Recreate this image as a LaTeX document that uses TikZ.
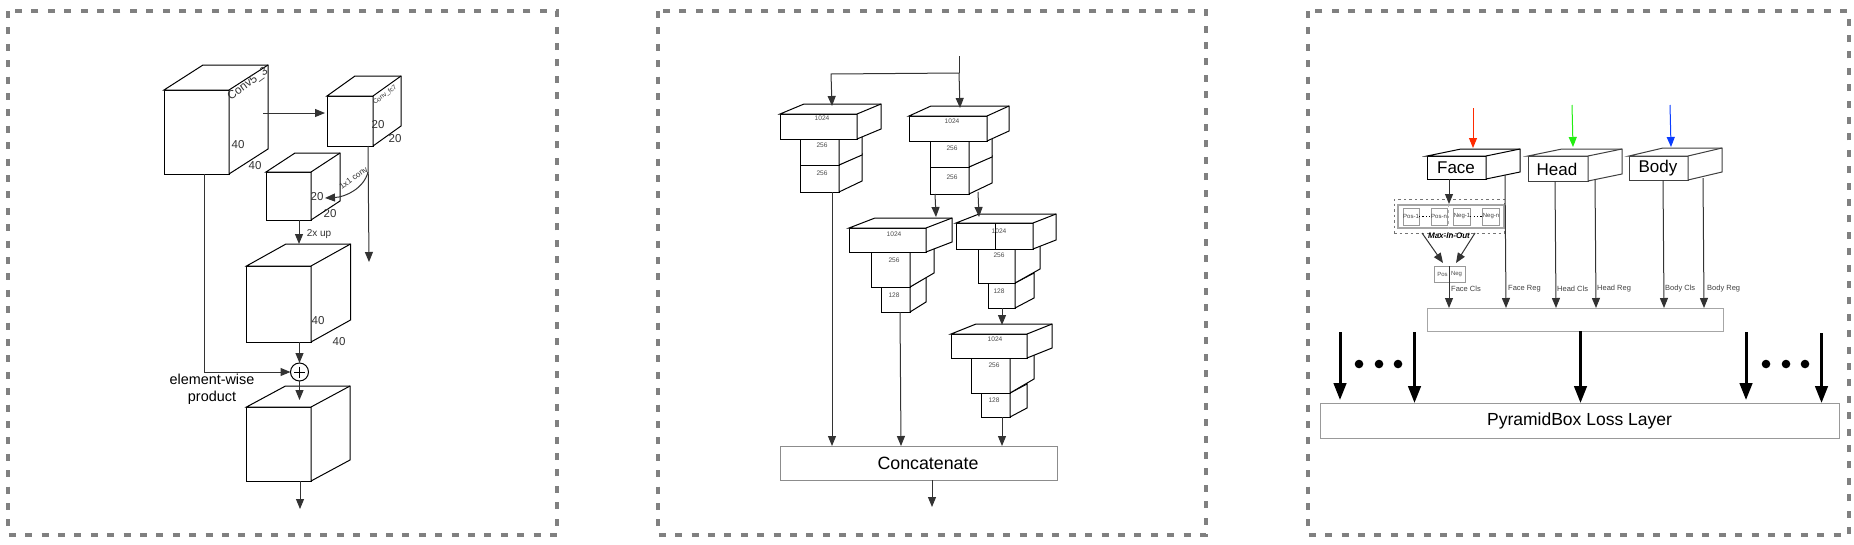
\documentclass[tikz,border=0pt]{standalone}
\usepackage{fontspec}
\setmainfont{Liberation Sans}
\usetikzlibrary{arrows.meta,calc}
\newcommand{\fpx}[1]{\fontsize{#1pt}{#1pt}\selectfont}
\tikzset{
  panel/.style={draw=black!50,line width=3.2pt,dash pattern=on 7pt off 9.4pt},
  cubeface/.style={draw=black,fill=white,line width=1pt,inner sep=0pt,outer sep=0pt},
  edgeline/.style={draw=black,fill=white,line width=1pt,line join=miter},
  arr/.style={draw=black!80,line width=1pt,-{Triangle[length=10pt,width=8pt]}},
  bigarr/.style={draw=black,line width=3pt,-{Triangle[length=17pt,width=12.5pt]}},
  greybox/.style={draw=black!45,fill=white,line width=1pt,inner sep=0pt,outer sep=0pt},
  dimlabel/.style={text=black!80,inner sep=0pt,font=\fpx{11.5}},
  tinylabel/.style={text=black!70,inner sep=0pt,font=\fpx{6.6}},
  caplabel/.style={text=black!75,inner sep=0pt,anchor=west,font=\fpx{7.5}},
  cellbox/.style={draw=black!40,fill=white,line width=.9pt,inner sep=0pt,outer sep=0pt,minimum width=16pt,minimum height=17pt,font=\fpx{6},text=black!75},
  dashbox/.style={draw=black!55,line width=.8pt,dash pattern=on 2.5pt off 3pt},
}
\newcommand{\boxthree}[8][black]{% colour; name x1 y1 x2 y2 dx dy
  \node[cubeface,draw=#1,minimum width={(#5-#3)*1pt},minimum height={(#6-#4)*1pt}] (#2) at ({(#3+#5)/2},{(#4+#6)/2}) {};
  \path[edgeline,draw=#1] (#2.north west) -- ++(#7,#8) -- ($(#2.north east)+(#7,#8)$) -- ($(#2.south east)+(#7,#8)$) -- (#2.south east) -- (#2.north east) -- cycle;
  \draw[edgeline,draw=#1,fill=none] (#2.north east) -- ++(#7,#8);
}
\newcommand{\tierbox}[7]{% name x1 y1 x2 y2 dx dy
  \node[cubeface,minimum width={(#4-#2)*1pt},minimum height={(#5-#3)*1pt}] (#1) at ({(#2+#4)/2},{(#3+#5)/2}) {};
  \path[edgeline] (#1.north east) -- ++(#6,#7) -- ($(#1.south east)+(#6,#7)$) -- (#1.south east) -- cycle;
}
\begin{document}
\begin{tikzpicture}[x=1pt,y=-1pt]
\useasboundingbox (0,0) rectangle (1854,544);
\fill[white] (0,0) rectangle (1854,544);
% panels
\draw[panel] (8,11) rectangle (557,535);
\draw[panel] (658,11) rectangle (1206,535);
\draw[panel] (1308,11) rectangle (1849,535);

% ---------- panel 1
\boxthree{cA}{164}{90}{229}{174}{39}{-25}
\boxthree{cB}{327}{96}{373}{146}{28}{-20}
\boxthree{cC}{266}{172}{311}{220}{29}{-19}
\boxthree{cD}{246.5}{266}{311}{342}{39.5}{-22}
\boxthree{cE}{246.5}{407}{311}{481}{39}{-21}
\node[dimlabel,rotate=36,font=\fpx{11.7}] (t1) at (248,84) {Conv5\_3};
\node[dimlabel] (t2) at (238,145) {40};
\node[dimlabel] (t3) at (255,166) {40};
\node[dimlabel,rotate=38,font=\fpx{6.6}] (t4) at (385,95) {Conv\_fc7};
\node[dimlabel] (t5) at (378,125) {20};
\node[dimlabel] (t6) at (395,139) {20};
\node[dimlabel] (t7) at (317,197) {20};
\node[dimlabel] (t8) at (330,214) {20};
\node[dimlabel,rotate=36,font=\fpx{8.2}] (t9) at (353.5,178) {1x1 conv};
\node[dimlabel,font=\fpx{10}] (t10) at (319,234) {2x up};
\node[dimlabel] (t11) at (318,321) {40};
\node[dimlabel] (t12) at (339,342) {40};
\node[draw=black,fill=white,circle,line width=1pt,minimum size=18pt,inner sep=0pt,outer sep=0pt] (plus) at (299.5,372) {};
\draw[line width=.8pt] (plus.center) ++(-5.5,0) -- ++(11,0) (plus.center) ++(0,-5.5) -- ++(0,11);
\node[align=center,inner sep=0pt,font=\fpx{14.4}] (ew) at (212,389.5) {element-wise\\[2.5pt]product};
\coordinate (aAin) at (325,113);
\coordinate (aAst) at (263,113);
\draw[arr] (aAst) -- (aAin);
\coordinate (bEnd) at (369,262);
\draw[arr] (cB.south -| 368,0) -- (bEnd);
\coordinate (cvS) at (368,172);
\coordinate (cvE) at (325,198);
\draw[arr] (cvS) .. controls (364,188) and (346,197) .. (cvE);
\draw[arr] (cC.south -| 299,0) -- (299,244);
\draw[arr] (cD.south -| 299.5,0) -- (299.5,363);
\draw[arr] (cA.south -| 204,0) |- (plus.west);
\draw[arr] (plus.south) -- (299.5,400);
\coordinate (eOut) at (300,509);
\draw[arr] (cE.south -| 300,0) -- (eOut);

% ---------- panel 2
\coordinate (top) at (959,56);
\coordinate (fork) at (959,73);
% stack 1
\tierbox{s1c}{800}{165}{839}{192}{23}{-11}
\tierbox{s1b}{800}{139}{839}{165}{23}{-10}
\boxthree{s1a}{780}{114}{857}{139}{24}{-10}
% stack 2
\tierbox{s2c}{930}{167}{969}{194}{23}{-11}
\tierbox{s2b}{930}{141}{969}{167}{23}{-10}
\boxthree{s2a}{909}{116}{987}{141}{22}{-10}
% stack 3
\tierbox{s3c}{881}{287}{910}{312}{16}{-10}
\tierbox{s3b}{871}{252}{910}{287}{24}{-14}
\boxthree{s3a}{849}{228}{926}{252}{26}{-10}
% stack 4
\tierbox{s4c}{988}{283}{1015}{308}{19}{-10}
\tierbox{s4b}{978}{249}{1015}{283}{25}{-14}
\boxthree{s4a}{956}{223}{1033}{249}{23}{-9}
\draw[line width=.9pt] (s4a.north -| 995,0) -- (s4a.south -| 995,0);
% stack 5
\tierbox{s5c}{981}{393}{1010}{417}{17}{-9}
\tierbox{s5b}{971}{358}{1010}{393}{24}{-14}
\boxthree{s5a}{951}{334}{1027}{358}{25}{-10}
\foreach \n/\x/\y/\t in {l1/822/118/1024,l2/822/145/256,l3/822/173/256,
  l4/952/121/1024,l5/952/148/256,l6/952/177/256,
  l7/894/234/1024,l8/894/260/256,l9/894/295/128,
  l10/999/231/1024,l11/999/255/256,l12/999/291/128,
  l13/995/339/1024,l14/994/365/256,l15/994/400/128}
  \node[tinylabel] (\n) at (\x,\y) {\t};
\node[greybox,minimum width=277pt,minimum height=34pt,font=\fpx{17.8}] (conc) at (918.5,463) {\hspace{19pt}\raisebox{-1pt}{Concatenate}};
\draw[draw=black!80,line width=1pt] (top) -- (fork);
\draw[arr] (fork) -- (831,74) -- (832,106);
\draw[arr] (fork) -- (960,108);
\draw[arr] (s1c.south -| 832,0) -- (conc.north -| 832,0) ;
\draw[arr] (s2c.south -| 935,0) -- (936,217);
\draw[arr] (978,192) -- (979,217);
\draw[arr] (s3c.south -| 900,0) -- (conc.north -| 901,0);
\draw[arr] (s4c.south -| 1002,0) -- (1002,325);
\draw[arr] (s5c.south -| 1002,0) -- (conc.north -| 1002,0);
\coordinate (cOut) at (932,507);
\draw[arr] (conc.south -| 932,0) -- (cOut);

% ---------- panel 3
\boxthree{face}{1427}{156}{1486}{179}{34}{-7}
\boxthree[black!75]{head}{1528}{156}{1588}{181}{34}{-7}
\boxthree[black!75]{body}{1629}{156}{1688}{180}{34}{-8}
\node[inner sep=0pt,font=\fpx{17}] (tf) at (1456,168) {Face};
\node[inner sep=0pt,font=\fpx{17}] (th) at (1557,169) {Head};
\node[inner sep=0pt,font=\fpx{17}] (tb) at (1658,168) {Body};
\coordinate (rS) at (1473,108); \coordinate (rE) at (1473,148);
\coordinate (gS) at (1572,105); \coordinate (gE) at (1573,147);
\coordinate (bS) at (1670,105); \coordinate (bE) at (1671,147);
\definecolor{arrred}{HTML}{FF2A00}
\definecolor{arrgreen}{HTML}{22EE11}
\definecolor{arrblue}{HTML}{0A3CFF}
\draw[arr,draw=arrred] (rS) -- (rE);
\draw[arr,draw=arrgreen] (gS) -- (gE);
\draw[arr,draw=arrblue] (bS) -- (bE);
\node[greybox,draw=black!35,minimum width=296pt,minimum height=23pt] (merge) at (1575,319.5) {};
\node[greybox,draw=black!40,minimum width=519pt,minimum height=35pt,font=\fpx{17.5}] (loss) at (1579.5,420.5) {\raisebox{-2pt}{PyramidBox Loss Layer}};
% max in out
\node[dashbox,minimum width=110pt,minimum height=34pt,inner sep=0pt,outer sep=0pt] (mio) at (1449,216) {};
\node[draw=black!35,line width=1.4pt,minimum width=106pt,minimum height=23pt,inner sep=0pt,outer sep=0pt] (inner) at (1451,216.5) {};
\draw[dashbox,draw=black!30] (mio.north -| 1448,0) -- (mio.south -| 1448,0);
\node[cellbox] (p1) at (1411,216.5) {Pos-1};
\node[cellbox] (pn) at (1439,216.5) {Pos-n};
\node[cellbox] (n1) at (1462,216.5) {Neg-1};
\node[cellbox] (nn) at (1491,216.5) {Neg-n};
\draw[line width=.9pt,dash pattern=on 1.2pt off 2.2pt] (p1) -- (pn);
\draw[line width=.9pt,dash pattern=on 1.2pt off 2.2pt] (n1) -- (nn);
\node[inner sep=0pt,font=\bfseries\itshape\fpx{8}] (mt) at (1449,236) {Max-In-Out};
\node[draw=black!40,fill=white,line width=.9pt,minimum width=31pt,minimum height=16pt,inner sep=0pt,outer sep=0pt] (pair) at (1449.5,274) {};
\node[tinylabel,font=\fpx{6}] (pp) at (1442.5,274) {Pos};
\node[tinylabel,font=\fpx{6}] (nn2) at (1456.5,274) {Neg};
\draw[arr] (face.south -| 1449,0) -- (1449,204);
\draw[arr] (1422,233) -- (1443,263);
\draw[arr] (1475,233) -- (1456,263);
\draw[arr] (pair.north -| 1449,0) -- (merge.north -| 1449,0);
\draw[arr] (1505,175) -- (merge.north -| 1506,0);
\draw[arr] (head.south -| 1555,0) -- (merge.north -| 1556,0);
\draw[arr] (1595,179) -- (merge.north -| 1596,0);
\draw[arr] (body.south -| 1663,0) -- (merge.north -| 1664,0);
\draw[arr] (1703,178) -- (merge.north -| 1704,0);
\node[caplabel] (c1) at (1451,289) {Face Cls};
\node[caplabel] (c2) at (1508,289) {Face Reg};
\node[caplabel] (c3) at (1557,289) {Head Cls};
\node[caplabel] (c4) at (1597,289) {Head Reg};
\node[caplabel] (c5) at (1665,289) {Body Cls};
\node[caplabel] (c6) at (1707,289) {Body Reg};
% thick arrows
\coordinate (k1) at (1340,332); \coordinate (k2) at (1414.5,332);
\coordinate (k4) at (1746,332); \coordinate (k5) at (1821.5,333);
\draw[bigarr] (k1) -- (1340,400);
\draw[bigarr] (k2) -- (loss.north -| 1414.5,0);
\draw[bigarr] (merge.south -| 1580.5,0) -- (loss.north -| 1580.5,0);
\draw[bigarr] (k4) -- (1746,400);
\draw[bigarr] (k5) -- (loss.north -| 1821.5,0);
\foreach \x in {1359,1379,1398,1766,1786,1805} \fill (\x,364) circle (4.3);
\end{tikzpicture}
\end{document}
